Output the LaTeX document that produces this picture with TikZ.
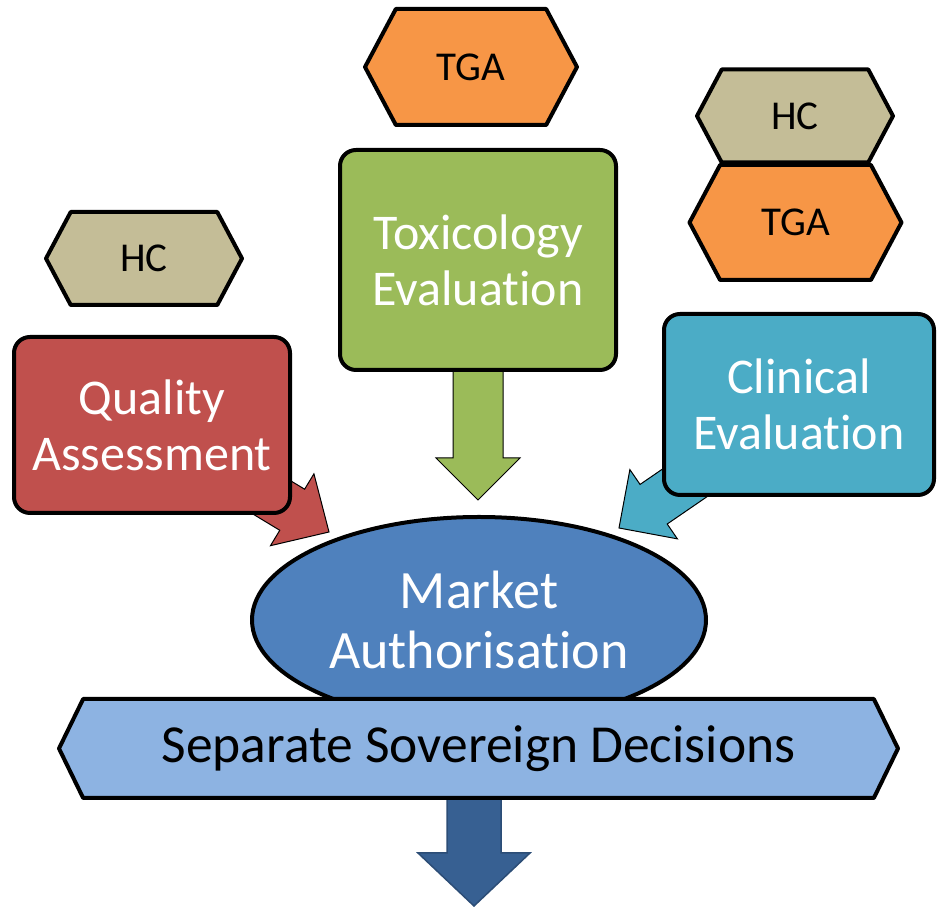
\documentclass[tikz,border=0pt]{standalone}
\usepackage{fontspec}
\setmainfont{Carlito}[Ligatures=NoCommon]
\usetikzlibrary{shapes.geometric,shapes.symbols,calc,backgrounds}

\definecolor{qared}{HTML}{C0504D}
\definecolor{toxgreen}{HTML}{9BBB59}
\definecolor{ceteal}{HTML}{4BACC6}
\definecolor{tgaorange}{HTML}{F79646}
\definecolor{hctan}{HTML}{C4BD97}
\definecolor{mablue}{HTML}{4F81BD}
\definecolor{ssdblue}{HTML}{8DB3E2}
\definecolor{outblue}{HTML}{376092}
\definecolor{outedge}{HTML}{2C4D76}

% block arrow: style, from, to, shaft half width, head half width, head length
\newcommand{\blockarrow}[6]{%
  \coordinate (hb) at ($(#3)!#6!(#2)$);
  \draw[#1] ($(#2)!#4!90:(#3)$) -- ($(hb)!#4!90:(#3)$) -- ($(hb)!#5!90:(#3)$) -- (#3)
    -- ($(hb)!#5!-90:(#3)$) -- ($(hb)!#4!-90:(#3)$) -- ($(#2)!#4!-90:(#3)$) -- cycle;
}

\begin{document}
\begin{tikzpicture}[x=1pt, y=1pt, line join=round,
    box/.style={draw, line width=4pt, rounded corners=16pt, text=white, align=center,
      font=\fontsize{50}{56}\selectfont, minimum width=276pt},
    tag/.style={signal, signal to=east and west, signal pointer angle=124, draw,
      line width=4pt, font=\fontsize{41}{48}\selectfont, inner sep=0pt},
    hc/.style={tag, fill=hctan, minimum width=196pt},
    tga/.style={tag, fill=tgaorange, minimum width=212pt},
    feed/.style={draw=black, line width=1pt}]
    \useasboundingbox (0,0) rectangle (938,907);

    \node[tga, minimum height=116pt] (tgaT) at (471,840) {TGA};
    \node[box, fill=toxgreen, minimum height=220pt] (tox) at (478,647) {Toxicology\\Evaluation};

    \node[hc, minimum height=93pt] (hcL) at (144,648.5) {HC};
    \node[box, fill=qared, minimum height=176pt] (qa) at (152,482) {Quality\\Assessment};

    \node[hc, minimum height=93pt] (hcR) at (795,791) {HC};
    \node[tga, minimum height=115pt] (tgaR) at (795.5,684.5) {TGA};
    \node[box, fill=ceteal, minimum width=270pt, minimum height=181pt] (ce) at (799,502.5) {Clinical\\Evaluation};

    \node[ellipse, draw, line width=4pt, fill=mablue, text=white, align=center, inner sep=0pt,
      minimum width=454pt, minimum height=206pt, font=\fontsize{54}{60}\selectfont]
      (ma) at (479,287) {Market\\Authorisation};
    \node[signal, signal to=east and west, signal pointer angle=128, draw, line width=4pt,
      fill=ssdblue, minimum width=839pt, minimum height=99pt, font=\fontsize{53.5}{60}\selectfont]
      (ssd) at (478.5,158.5) {Separate Sovereign Decisions};

    \coordinate (qtip) at ($(ma.center)+(-150,88)$);
    \coordinate (ttip) at ($(ma.center)+(-1,120)$);
    \coordinate (ctip) at ($(ma.center)+(140,92)$);
    \coordinate (otop) at (474,160);
    \coordinate (out) at (474,1);

    \begin{scope}[on background layer]
        \blockarrow{feed, fill=qared}{qa.center}{qtip}{24pt}{42pt}{43pt}
        \blockarrow{feed, fill=toxgreen}{tox.center}{ttip}{25pt}{42pt}{42pt}
        \blockarrow{feed, fill=ceteal}{ce.center}{ctip}{24pt}{42pt}{42pt}
        \blockarrow{draw=outedge, line width=1.5pt, fill=outblue}{otop}{out}{27pt}{56pt}{53pt}
    \end{scope}
\end{tikzpicture}
\end{document}
